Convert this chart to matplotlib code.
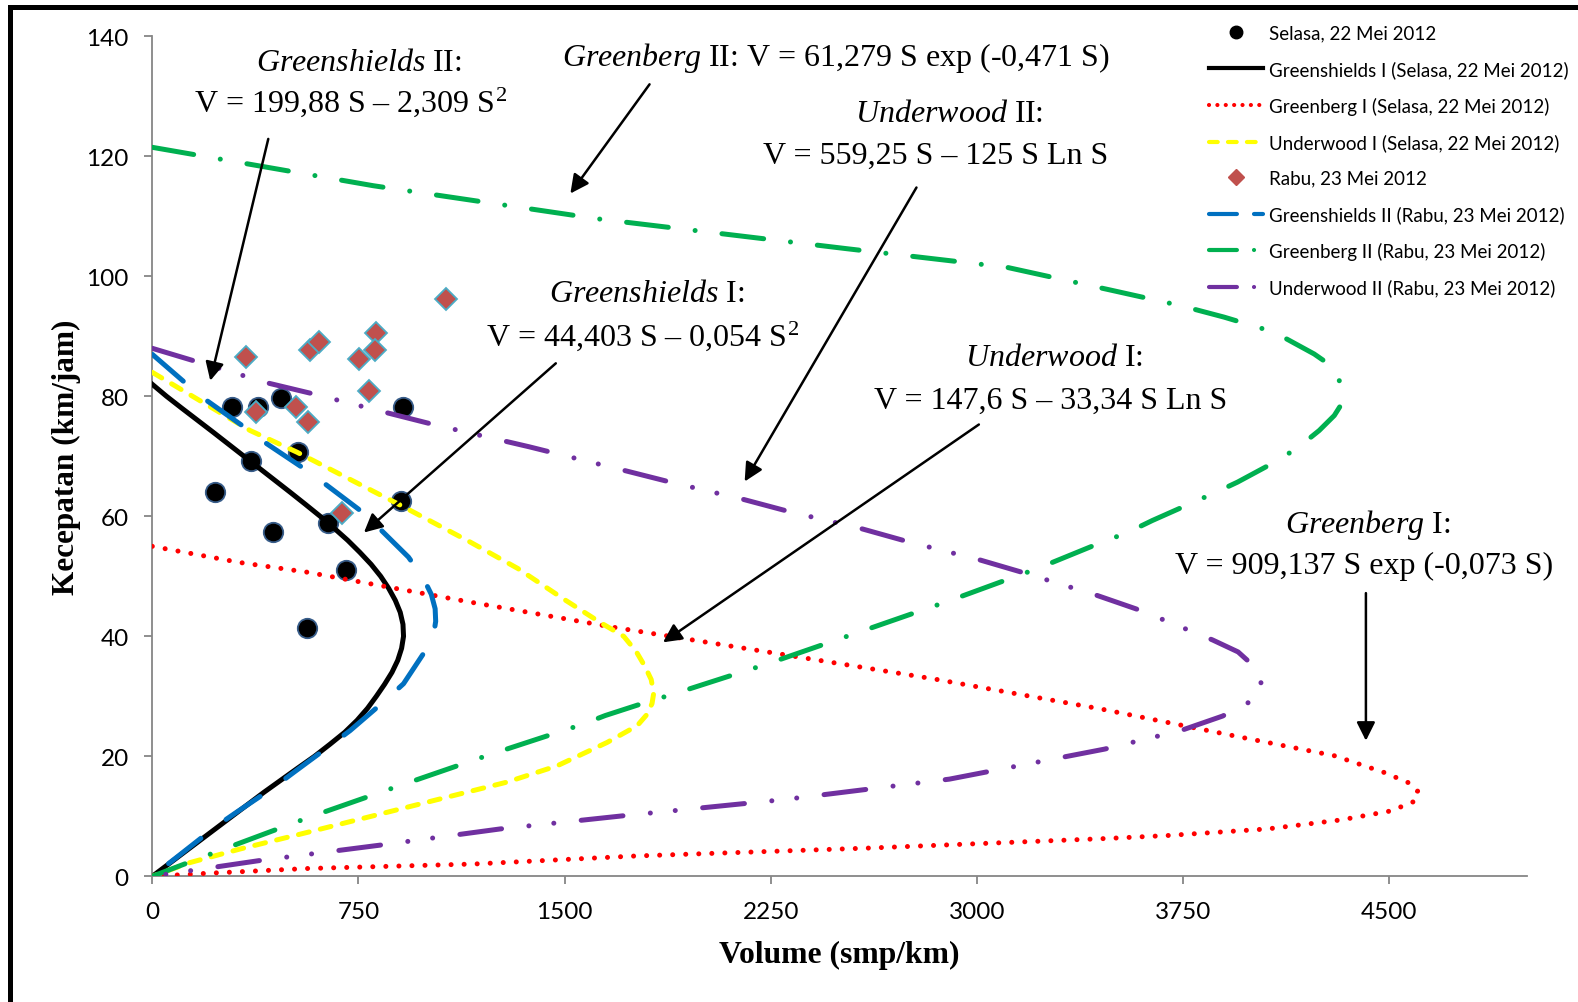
import matplotlib
matplotlib.use("Agg")
import matplotlib.pyplot as plt
from matplotlib.patches import Rectangle
from matplotlib.lines import Line2D

plt.rcParams['mathtext.fontset'] = 'custom'
plt.rcParams['mathtext.rm'] = 'Liberation Serif'
plt.rcParams['mathtext.it'] = 'Liberation Serif:italic'

# data points (volume, speed)
selasa_v = [289, 385, 469, 912, 360, 531, 906, 229, 438, 639, 704, 562]
selasa_s = [78.3, 78.3, 79.7, 78.3, 69.2, 70.7, 62.6, 64.0, 57.4, 58.9, 51.0, 41.4]

rabu_v = [1069, 340, 574, 607, 815, 811, 751, 789, 376, 522, 568, 692]
rabu_s = [96.2, 86.6, 87.7, 89.1, 90.5, 87.8, 86.2, 80.9, 77.4, 78.3, 75.8, 60.6]

# model curves
gs1_s = [82, 80, 78, 76, 74, 72, 70, 68, 66, 64, 62, 60, 58, 56, 54, 52, 50, 48, 46, 44, 42, 40,
         38, 36, 34, 32, 30, 28, 26, 24, 22, 20, 18, 16, 14, 12, 10, 8, 6, 4, 2, 0]
gs1_v = [0, 52, 108, 165, 222, 278, 334, 390, 446, 502, 557, 611, 662, 711, 755, 796, 831, 860, 884, 902, 912, 914,
         907, 893, 872, 845, 815, 783, 745, 700, 646, 590, 528, 467, 406, 348, 290, 232, 174, 116, 58, 0]

gb1_v = [0, 319, 562, 1157, 1679, 2237, 2843, 3450, 3937, 4300, 4482, 4570, 4603, 4597, 4506, 4324, 4057,
         3693, 3469, 2600, 1763, 1169, 562, 198, 0]
gb1_s = [55.0, 52.3, 50.7, 45.7, 41.5, 37.4, 32.9, 27.9, 23.4, 20.1, 17.3, 15.6, 14.2, 12.6, 10.9, 9.4, 7.9,
         6.8, 6.3, 4.7, 3.4, 2.05, 1.3, 0.5, 0]

uw1_v = [0, 356, 526, 905, 1157, 1330, 1497, 1630, 1715, 1760, 1792, 1815, 1824, 1818, 1800, 1764, 1654, 1472,
         1290, 1047, 805, 562, 319, 138, 0]
uw1_s = [84.0, 74.3, 70.7, 61.8, 55.7, 51.3, 46.2, 42.3, 40.0, 37.5, 35.0, 32.8, 30.5, 28.8, 27.0, 25.1, 22.3, 18.4,
         15.7, 12.9, 10.1, 7.3, 4.55, 2.3, 0]

gs2_v = [0, 131, 198, 337, 410, 544, 617, 750, 817, 932, 987, 1015, 1029, 1031, 1024, 1005, 914, 847, 720, 647,
         514, 441, 307, 234, 95, 0]
gs2_s = [87.0, 81.8, 79.3, 74.8, 72.3, 68.2, 65.8, 61.2, 58.4, 53.2, 49.6, 47.0, 44.6, 42.5, 40.4, 38.4, 32.1, 29.3,
         24.3, 21.8, 17.3, 14.8, 10.7, 8.4, 3.4, 0]

gb2_v = [0, 804, 1617, 2527, 3109, 3477, 3742, 3899, 4081, 4227, 4282, 4315, 4330, 4322, 4300, 4245, 4172, 4094,
         3948, 3869, 3638, 3548, 3450, 3220, 2892, 2565, 2237, 1897, 1776, 1648, 1563, 1229, 899, 568, 240, 0]
gb2_s = [121.5, 115.1, 109.6, 104.6, 101.5, 97.8, 95.1, 93.2, 90.7, 87.05, 85.3, 83.2, 80.4, 78.4, 76.8, 74.3, 71.6,
         69.3, 65.7, 64.0, 59.3, 57.3, 55.6, 51.3, 45.8, 40.6, 35.4, 30.4, 28.7, 26.8, 25.3, 20.3, 15.1, 9.8, 4.2, 0]

uw2_v = [0, 422, 586, 859, 1023, 1370, 1721, 1885, 2152, 2316, 2583, 2747, 3013, 3177, 3438, 3596,
         3857, 3950, 3996, 4028, 4035, 4015, 3978, 3893, 3742, 3464, 2900, 2300, 1715, 1266, 829, 386, 0]
uw2_s = [88.0, 82.2, 80.4, 77.2, 75.3, 71.6, 67.6, 65.7, 62.8, 60.8, 57.9, 55.8, 52.7, 50.5, 46.8, 44.3,
         39.4, 37.4, 35.5, 33.6, 31.8, 30.1, 28.6, 26.7, 24.3, 21.2, 16.2, 12.8, 10.1, 7.9, 5.2, 2.6, 0]

x_ticks = [0, 750, 1500, 2250, 3000, 3750, 4500]
y_ticks = [0, 20, 40, 60, 80, 100, 120, 140]

labels = ['Selasa, 22 Mei 2012', 'Greenshields I (Selasa, 22 Mei 2012)', 'Greenberg I (Selasa, 22 Mei 2012)',
          'Underwood I (Selasa, 22 Mei 2012)', 'Rabu, 23 Mei 2012', 'Greenshields II (Rabu, 23 Mei 2012)',
          'Greenberg II (Rabu, 23 Mei 2012)', 'Underwood II (Rabu, 23 Mei 2012)']

fig = plt.figure(figsize=(15.78, 10.03), dpi=100)
ax = fig.add_axes([0.0965, 0.1253, 0.871, 0.8375])

lw = 3.6
ax.plot(selasa_v, selasa_s, 'o', ms=14, mfc='black', mec='#385d8a', mew=1.3, zorder=3)
ax.plot(gs1_v, gs1_s, color='black', lw=lw, zorder=4)
ax.plot(gb1_v, gb1_s, color='#ff0000', lw=lw, ls=(0, (0.01, 2.6)), dash_capstyle='round', zorder=5)
ax.plot(uw1_v, uw1_s, color='#ffff00', lw=lw, ls=(0, (2.2, 2.3)), dash_capstyle='round', zorder=6)
ax.plot(rabu_v, rabu_s, 'D', ms=11.5, mfc='#c0504d', mec='#4bacc6', mew=1.3, zorder=7)
ax.plot(gs2_v, gs2_s, color='#0070c0', lw=lw, ls=(0, (8.2, 6.3)), dash_capstyle='round', zorder=8)
ax.plot(gb2_v, gb2_s, color='#00b050', lw=lw, ls=(0, (8.4, 5.4, 0.01, 5.4)), dash_capstyle='round', zorder=9)
ax.plot(uw2_v, uw2_s, color='#7030a0', lw=lw, ls=(0, (8.4, 5.5, 0.01, 5.0, 0.01, 5.5)), dash_capstyle='round',
        zorder=10)

ax.set_xlim(0, 5000)
ax.set_ylim(0, 140)
ax.set_xticks(x_ticks)
ax.set_yticks(y_ticks)
for s in ['top', 'right']:
    ax.spines[s].set_visible(False)
for s in ['left', 'bottom']:
    ax.spines[s].set_color('#868686')
    ax.spines[s].set_linewidth(1.3)
ax.tick_params(colors='#868686', length=6, width=1.3, labelcolor='black', labelsize=17.5)
ax.tick_params(axis='x', pad=12)
ax.tick_params(axis='y', pad=11)
for t in ax.get_xticklabels() + ax.get_yticklabels():
    t.set_fontfamily('Lato')

ax.set_xlabel('Volume (smp/km)', fontfamily='Liberation Serif', fontweight='bold', fontsize=22.8, labelpad=13)
ax.set_ylabel('Kecepatan (km/jam)', fontfamily='Liberation Serif', fontweight='bold', fontsize=22.5, labelpad=4)

# annotations
tk = dict(fontfamily='Liberation Serif', fontsize=23, ha='center', va='center', clip_on=False)
ax.text(753, 135.6, r'$\mathit{Greenshields}$ II:', **tk)
ax.text(720, 129.2, r'V = 199,88 S – 2,309 S$^{2}$', **tk)
ax.text(2486, 136.5, r'$\mathit{Greenberg}$ II: V = 61,279 S exp (-0,471 S)', **tk)
ax.text(2900, 127.2, r'$\mathit{Underwood}$ II:', **tk)
ax.text(2849, 120.2, 'V = 559,25 S – 125 S Ln S', **tk)
ax.text(1801, 97.2, r'$\mathit{Greenshields}$ I:', **tk)
ax.text(1783, 90.2, r'V = 44,403 S – 0,054 S$^{2}$', **tk)
ax.text(3282, 86.5, r'$\mathit{Underwood}$ I:', **tk)
ax.text(3267, 79.4, 'V = 147,6 S – 33,34 S Ln S', **tk)
ax.text(4421, 58.8, r'$\mathit{Greenberg}$ I:', **tk)
ax.text(4410, 51.75, 'V = 909,137 S exp (-0,073 S)', **tk)

arrows = [((422, 122.9), (211, 82.6)),
          ((1809, 132.0), (1521, 113.8)),
          ((2780, 114.8), (2155, 65.8)),
          ((1468, 85.5), (770, 57.3)),
          ((3007, 75.3), (1858, 39.0)),
          ((4415, 47.2), (4415, 22.6))]
for tail, head in arrows:
    ax.annotate('', xy=head, xytext=tail, zorder=20,
                arrowprops=dict(arrowstyle='-|>', color='black', lw=1.8, mutation_scale=28,
                                shrinkA=0, shrinkB=0))

# legend keys, drawn the way the legend box shows them
llw = 3.0
handles = [
    Line2D([], [], ls='none', marker='o', ms=9, mfc='black', mec='black'),
    Line2D([], [], color='black', lw=llw),
    Line2D([], [], color='#ff0000', lw=llw, ls=(0, (0.01, 2.0)), dash_capstyle='round'),
    Line2D([], [], color='#ffff00', lw=llw, ls=(0, (2.1, 2.45)), dash_capstyle='round'),
    Line2D([], [], ls='none', marker='D', ms=8.5, mfc='#c0504d', mec='#c0504d'),
    Line2D([], [], color='#0070c0', lw=llw, ls=(0, (6.7, 4.1)), dash_capstyle='round'),
    Line2D([], [], color='#00b050', lw=llw, ls=(0, (6.7, 4.1, 0.01, 6.0)), dash_capstyle='round'),
    Line2D([], [], color='#7030a0', lw=llw, ls=(0, (6.7, 4.1, 0.01, 6.0)), dash_capstyle='round'),
]
leg = fig.legend(handles, labels, loc='upper left', bbox_to_anchor=(0.7613, 0.982), frameon=False,
                 prop={'family': 'Lato', 'size': 13.5}, handlelength=2.9, handletextpad=0.3,
                 labelspacing=0.99, borderaxespad=0)

# frame round the picture
fig.patches.append(Rectangle((9.5 / 1578, -0.5), 2, 1.5 - 8 / 1003, transform=fig.transFigure,
                             fill=False, ec='black', lw=3.6, clip_on=False))

fig.savefig('out.png', dpi=100)
